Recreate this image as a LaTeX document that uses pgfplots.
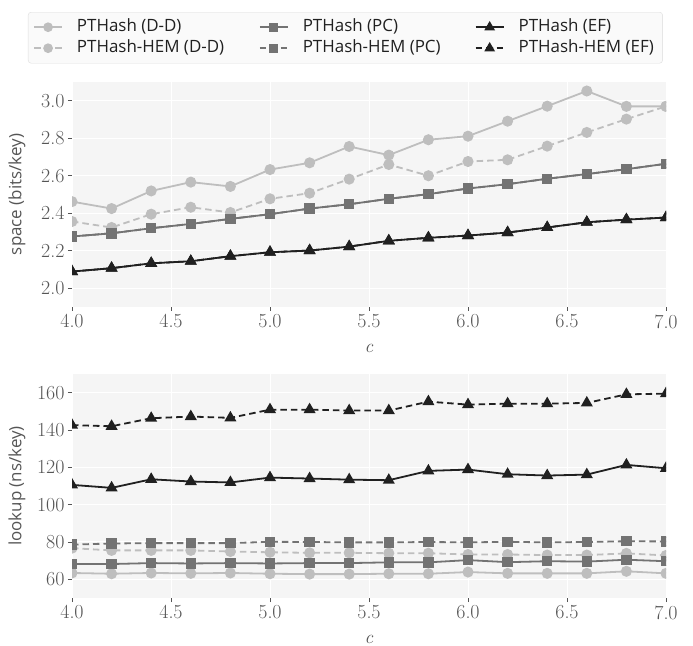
\documentclass[border=0pt]{standalone}
\usepackage{fontspec}
\setsansfont{Open Sans}
\usepackage{pgfplots}
\usepackage{pgfplotstable}
\pgfplotsset{compat=1.18}

\definecolor{cDD}{RGB}{190,190,190}
\definecolor{cPC}{RGB}{115,115,115}
\definecolor{cEF}{RGB}{32,32,32}
\definecolor{cBg}{RGB}{245,245,245}
\definecolor{cText}{RGB}{85,85,85}
\definecolor{cLegBorder}{RGB}{220,220,220}
\definecolor{cLegFill}{RGB}{250,250,250}

% space (bits/key)
\pgfplotstableread{
c   dd    ddh   pc    pch   ef    efh
4.0 2.462 2.356 2.276 2.276 2.089 2.089
4.2 2.425 2.324 2.293 2.293 2.107 2.107
4.4 2.519 2.395 2.320 2.320 2.133 2.133
4.6 2.566 2.432 2.343 2.343 2.144 2.144
4.8 2.543 2.404 2.370 2.370 2.171 2.171
5.0 2.633 2.477 2.395 2.395 2.192 2.192
5.2 2.669 2.507 2.425 2.425 2.201 2.201
5.4 2.756 2.582 2.448 2.448 2.222 2.222
5.6 2.710 2.660 2.477 2.477 2.253 2.253
5.8 2.792 2.600 2.502 2.502 2.269 2.269
6.0 2.811 2.676 2.532 2.532 2.281 2.281
6.2 2.891 2.685 2.555 2.555 2.297 2.297
6.4 2.971 2.758 2.584 2.584 2.324 2.324
6.6 3.052 2.831 2.609 2.609 2.352 2.352
6.8 2.970 2.902 2.635 2.635 2.366 2.366
7.0 2.970 2.970 2.664 2.664 2.377 2.377
}\spacetab

% lookup (ns/key)
\pgfplotstableread{
c   dd   ddh  pc   pch  ef    efh
4.0 63.4 76.7 68.2 78.6 110.6 142.6
4.2 63.0 75.5 68.2 79.2 109.0 142.0
4.4 63.4 75.5 68.7 79.4 113.6 146.3
4.6 63.2 75.5 68.5 79.4 112.4 147.2
4.8 63.4 74.9 68.7 79.4 111.9 146.5
5.0 63.0 74.5 68.5 80.1 114.5 150.9
5.2 62.8 74.2 68.7 80.0 114.0 150.9
5.4 62.8 74.2 68.7 79.8 113.4 150.4
5.6 63.0 74.0 69.1 79.8 113.1 150.4
5.8 63.0 74.0 69.1 80.0 118.1 155.2
6.0 63.9 73.3 70.3 79.8 118.8 153.6
6.2 63.2 73.3 69.2 80.1 116.3 154.1
6.4 63.2 73.0 69.7 79.8 115.6 154.1
6.6 63.2 73.0 69.5 80.0 116.1 154.5
6.8 64.3 73.9 70.5 80.4 121.3 159.1
7.0 63.2 72.8 69.7 80.3 119.5 159.5
}\lookuptab

\pgfplotsset{
  panel/.style={
    scale only axis, width=594bp, height=225bp,
    xmin=4, xmax=7, xtick={4,4.5,...,7},
    axis background/.style={fill=cBg},
    axis line style={draw=none},
    grid=major, major grid style={white, line width=1bp},
    tick align=outside, tick pos=left, major tick length=4bp,
    tick style={cText, line width=0.8bp},
    /pgf/number format/assume math mode=true,
    tick label style={font=\fontsize{20}{22}\selectfont, text=cText},
    xticklabel style={/pgf/number format/.cd, fixed, fixed zerofill, precision=1},
    label style={font=\sffamily\fontsize{17}{20}\selectfont, text=cText},
    xlabel={\textit{c}},
    xlabel style={at={(axis description cs:0.5,-0.185)}, anchor=center, inner sep=0pt,
      font=\rmfamily\fontsize{19}{20}\selectfont},
    ylabel style={at={(axis description cs:-0.0926,0.5)}, anchor=center, rotate=0},
    clip marker paths=true,
    legend image code/.code={
      \draw[mark repeat=2, mark phase=2, every mark/.append style={scale=0.85}]
        plot coordinates {(0bp,0bp) (14bp,0bp) (28bp,0bp)};},
  },
  dd/.style={cDD, line width=1.8bp, mark=*, mark size=4.6bp, mark options={solid}},
  pc/.style={cPC, line width=1.8bp, mark=square*, mark size=4.3bp, mark options={solid}},
  ef/.style={cEF, line width=1.8bp, mark=triangle*, mark size=5.2bp, mark options={solid}},
  hem/.style={dash pattern=on 6.5bp off 4bp},
}

\begin{document}
\begin{tikzpicture}
\path[use as bounding box] (0,0) rectangle (693bp,646bp);

\begin{axis}[panel,
  at={(72bp,339bp)}, anchor=south west,
  ymin=1.9, ymax=3.1, ytick={2.0,2.2,...,3.0},
  yticklabel style={/pgf/number format/.cd, fixed, fixed zerofill, precision=1},
  ylabel={space (bits/key)},
  legend columns=3,
  legend cell align=left,
  legend style={at={(-0.0741,1.311)}, anchor=north west,
    draw=cLegBorder, fill=cLegFill, rounded corners=3bp,
    inner xsep=5bp, inner ysep=7bp, row sep=5bp,
    font=\sffamily\fontsize{17}{20}\selectfont, text=cEF,
    nodes={inner sep=0pt, text height=12bp, text depth=4bp},
    /tikz/every odd column/.append style={column sep=14bp}},
]
\addplot[dd] table[x=c, y=dd] {\spacetab};
\addlegendentry{\makebox[182bp][l]{PTHash (D-D)}}
\addplot[pc] table[x=c, y=pc] {\spacetab};
\addlegendentry{\makebox[172bp][l]{PTHash (PC)}}
\addplot[ef] table[x=c, y=ef] {\spacetab};
\addlegendentry{\makebox[139bp][l]{PTHash (EF)}}
\addplot[dd, hem] table[x=c, y=ddh] {\spacetab};
\addlegendentry{PTHash-HEM (D-D)}
\addplot[pc, hem] table[x=c, y=pch] {\spacetab};
\addlegendentry{PTHash-HEM (PC)}
\addplot[ef, hem] table[x=c, y=efh] {\spacetab};
\addlegendentry{PTHash-HEM (EF)}
\end{axis}

\begin{axis}[panel,
  at={(72bp,48bp)}, anchor=south west, height=224bp,
  ymin=50, ymax=170, ytick={60,80,...,160},
  ylabel={lookup (ns/key)},
]
\addplot[dd] table[x=c, y=dd] {\lookuptab};
\addplot[dd, hem] table[x=c, y=ddh] {\lookuptab};
\addplot[pc] table[x=c, y=pc] {\lookuptab};
\addplot[pc, hem] table[x=c, y=pch] {\lookuptab};
\addplot[ef] table[x=c, y=ef] {\lookuptab};
\addplot[ef, hem] table[x=c, y=efh] {\lookuptab};
\end{axis}
\end{tikzpicture}
\end{document}
